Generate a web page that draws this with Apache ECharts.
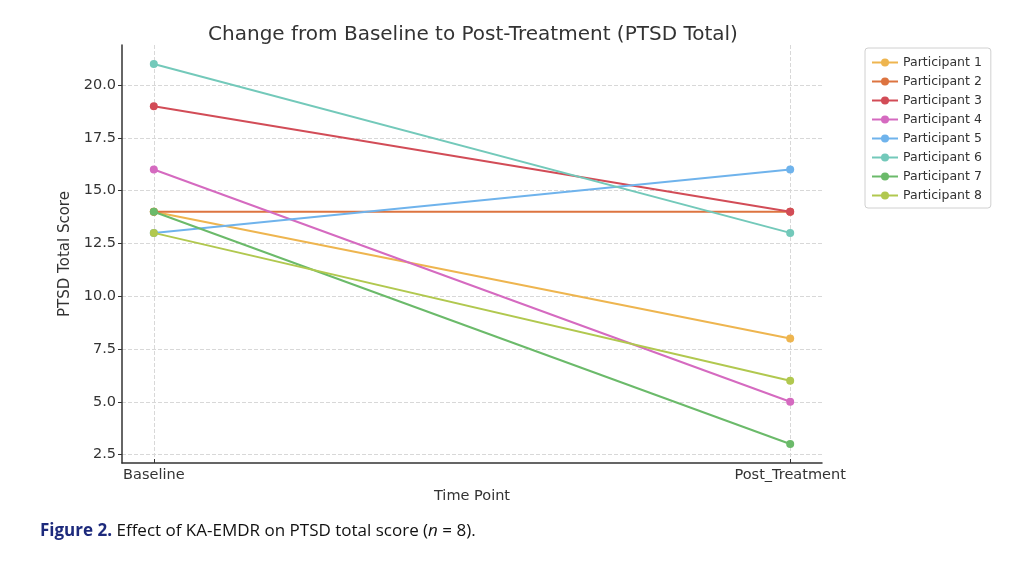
<!DOCTYPE html>
<html>
<head>
<meta charset="utf-8">
<script src="https://cdn.jsdelivr.net/npm/echarts@6/dist/echarts.min.js"></script>
<style>html,body{margin:0;padding:0;background:#fff;}#c{width:1024px;height:571px;}</style>
</head>
<body>
<div id="c"></div>
<script>
const timePoints = ['Baseline', 'Post_Treatment'];
const participants = ['Participant 1','Participant 2','Participant 3','Participant 4','Participant 5','Participant 6','Participant 7','Participant 8'];
const baseline = [14, 14, 19, 16, 13, 21, 14, 13];
const postTreatment = [8, 14, 14, 5, 16, 13, 3, 6];
const yTicks = [2.5, 5.0, 7.5, 10.0, 12.5, 15.0, 17.5, 20.0];
const colors = ['#eeb54f','#dd7440','#d24c57','#d56ac0','#6fb3ec','#73c9ba','#6bba6a','#b1c84f'];

const chart = echarts.init(document.getElementById('c'), null, {renderer: 'canvas'});
const font = 'DejaVu Sans';
const series = participants.map((name, i) => ({
  name: name,
  type: 'line',
  data: [[0, baseline[i]], [1, postTreatment[i]]],
  symbol: 'circle',
  symbolSize: 8,
  lineStyle: {width: 2, color: colors[i]},
  itemStyle: {color: colors[i]},
  emphasis: {disabled: true},
  z: 2 + i
}));

chart.setOption({
  animation: false,
  backgroundColor: '#fff',
  title: {
    text: 'Change from Baseline to Post-Treatment (PTSD Total)',
    left: 468, top: 20, textAlign: 'center',
    textStyle: {fontFamily: font, fontSize: 20, fontWeight: 'normal', color: '#333'}
  },
  legend: {
    orient: 'vertical',
    left: 865, top: 48,
    padding: [8, 9, 6, 6],
    itemWidth: 26, itemHeight: 10, itemGap: 6,
    borderColor: '#d0d0d0', borderWidth: 1, borderRadius: 3,
    textStyle: {fontFamily: font, fontSize: 12.5, color: '#333'},
    data: participants
  },
  grid: {left: 122, right: 202, top: 45, bottom: 108},
  xAxis: {
    type: 'value', min: -0.05, max: 1.05,
    name: 'Time Point', nameLocation: 'middle', nameGap: 26,
    nameTextStyle: {fontFamily: font, fontSize: 14.5, color: '#333'},
    axisLine: {show: true, onZero: false, lineStyle: {color: '#333', width: 1.5}},
    axisTick: {show: true, inside: true, length: 4, customValues: [0, 1], lineStyle: {color: '#333'}},
    axisLabel: {customValues: [0, 1], formatter: v => timePoints[Math.round(v)], fontFamily: font, fontSize: 14.5, color: '#333', margin: 5},
    splitLine: {show: true, lineStyle: {type: 'dashed', color: '#d8d8d8', width: 1}}
  },
  yAxis: {
    type: 'value', min: 2.1, max: 21.9,
    name: 'PTSD Total Score', nameLocation: 'middle', nameGap: 49,
    nameTextStyle: {fontFamily: font, fontSize: 15, color: '#333'},
    axisLine: {show: true, onZero: false, lineStyle: {color: '#333', width: 1.5}},
    axisTick: {show: true, length: 4, customValues: yTicks, lineStyle: {color: '#333'}},
    axisLabel: {customValues: yTicks, formatter: v => v.toFixed(1), fontFamily: font, fontSize: 14.5, color: '#333', margin: 6},
    splitLine: {show: true, lineStyle: {type: 'dashed', color: '#d8d8d8', width: 1}}
  },
  graphic: [{
    type: 'text', left: 40, top: 523,
    style: {
      rich: {
        b: {fontFamily: 'Open Sans', fontSize: 17, fontWeight: 'bold', fill: '#1d2a7c'},
        r: {fontFamily: 'Open Sans', fontSize: 17, fill: '#111'},
        i: {fontFamily: 'Open Sans', fontSize: 17, fontStyle: 'italic', fill: '#111'}
      },
      text: '{b|Figure 2.}{r| Effect of KA-EMDR on PTSD total score (}{i|n}{r| = 8).}'
    }
  }],
  series: series
});
</script>
</body>
</html>
